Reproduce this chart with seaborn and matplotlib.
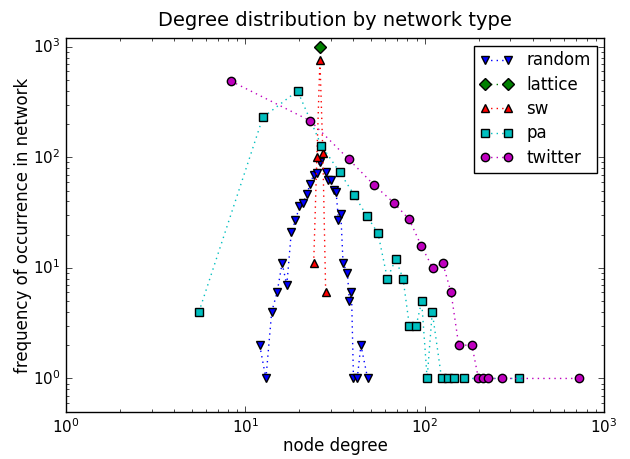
import matplotlib
matplotlib.use("Agg")
import matplotlib.pyplot as plt
import seaborn as sns
import pandas as pd

random_deg = [12, 13, 14, 15, 16, 17, 18, 19, 20, 21, 22, 23, 24, 25, 26, 28, 29, 30,
              31, 32, 33, 34, 35, 37, 38, 39, 40, 42, 44, 48]
random_freq = [2, 1, 4, 6, 11, 7, 21, 27, 36, 39, 47, 58, 70, 72, 91, 74, 63, 62,
               51, 49, 27, 31, 11, 9, 5, 6, 1, 1, 2, 1]

lattice_deg = [26]
lattice_freq = [1000]

sw_deg = [24, 25, 26, 27, 28]
sw_freq = [11, 100, 760, 110, 6]

pa_deg = [5.5, 12.5, 19.5, 26.5, 33.6, 40.3, 47.5, 54.8, 61.8, 68.8, 75.6, 82, 89.5,
          96, 103, 110, 124, 135, 146, 166, 336]
pa_freq = [4, 230, 400, 128, 73, 46, 29.5, 20.6, 8, 12, 8, 3, 3,
           5, 1, 4, 1, 1, 1, 1, 1]

twitter_deg = [8.3, 23, 37.7, 52.2, 67, 81.8, 95.8, 110.7, 126, 140, 154.5, 183,
               199, 212, 226, 270, 721]
twitter_freq = [490, 214, 96, 56, 39, 27.5, 15.7, 10, 11, 6, 2, 2,
                1, 1, 1, 1, 1]

series = [
    ("random", random_deg, random_freq, "b", "v"),
    ("lattice", lattice_deg, lattice_freq, "g", "D"),
    ("sw", sw_deg, sw_freq, "r", "^"),
    ("pa", pa_deg, pa_freq, "c", "s"),
    ("twitter", twitter_deg, twitter_freq, "m", "o"),
]

plt.style.use("classic")
fig = plt.figure(figsize=(6.3, 4.59), dpi=100, facecolor="white")
ax = fig.add_axes([0.105, 0.103, 0.854, 0.814])

for name, deg, freq, color, marker in series:
    df = pd.DataFrame({"degree": deg, "freq": freq})
    sns.lineplot(data=df, x="degree", y="freq", ax=ax, estimator=None, sort=True,
                 color=color, marker=marker, linestyle=":", markersize=6,
                 markeredgecolor="black", markeredgewidth=1, linewidth=1,
                 label=name)

ax.set_xscale("log")
ax.set_yscale("log")
ax.set_xlim(1, 1000)
ax.set_ylim(0.5, 1200)
ax.set_title("Degree distribution by network type", fontsize=14, pad=9)
ax.set_xlabel("node degree", fontsize=12, labelpad=1)
ax.set_ylabel("frequency of occurrence in network", fontsize=12, labelpad=1)
ax.tick_params(labelsize=11)
leg = ax.legend(loc="upper right", numpoints=2, fontsize=12, fancybox=False,
                labelspacing=0.38, borderpad=0.35, borderaxespad=0.45)
leg.get_frame().set_edgecolor("black")

fig.savefig("out.png", dpi=100, facecolor="white")
